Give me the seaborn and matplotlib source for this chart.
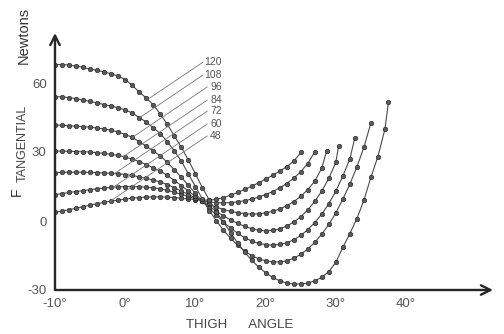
import numpy as np
import pandas as pd
import matplotlib
matplotlib.use("Agg")
import matplotlib.pyplot as plt
import seaborn as sns

# curve labels (top to bottom at -10 deg) and the angle where each curve stops
speeds = [120, 108, 96, 84, 72, 60, 48]
end_angles = [37.5, 35, 32.7, 30.4, 28.7, 27, 25.1]

# F tangential (N) read at every whole degree from -10, last value at end angle
f_120 = [68, 68, 67.8, 67.4, 66.8, 66, 65.5, 64.8, 64, 63,
         61.5, 59, 56, 53.5, 50.5, 46.5, 42, 37, 32, 26.5,
         20.5, 14.5, 9, 4, -0.5, -5, -9.5, -13.5, -17, -20,
         -22.5, -24.5, -26, -27, -27.4, -27.4, -27, -26, -24.5, -22,
         -18, -11.5, -5.5, 1, 9, 19, 28, 40, 51.7]
f_108 = [54, 54, 53.6, 53.2, 52.6, 52, 51.3, 50.6, 49.9, 49.2,
         48.3, 47, 45, 43, 40.5, 38, 34.5, 30.5, 26, 20.5,
         15, 9.5, 4.5, 0, -4, -7.5, -10.5, -13, -15, -16.5,
         -17.3, -17.8, -17.8, -17.3, -16.2, -14.5, -12.2, -9.3, -5.7, -1.5,
         3.5, 9.5, 16, 23.5, 32, 42.6]
f_96 = [41.7, 41.6, 41.4, 41.2, 41, 40.8, 40.4, 40, 39.4, 38.7,
        37.6, 36.4, 34.5, 32.5, 30.5, 28.3, 25.5, 22.3, 19, 15.5,
        12, 8.5, 5.5, 2.5, -0.5, -3, -5.3, -7.2, -8.7, -9.7,
        -10.3, -10.5, -10.2, -9.5, -8.2, -6.3, -3.8, -0.7, 3, 7.5,
        13, 19.5, 27, 36]
f_84 = [30.4, 30.4, 30.3, 30.2, 30.1, 30, 29.7, 29.4, 29, 28.5,
        27.8, 26.9, 25.8, 24.5, 23.1, 21.7, 19.8, 17.6, 15.4, 13,
        10.7, 8.5, 6.3, 4.2, 2.2, 0.5, -1, -2.3, -3.3, -4,
        -4.3, -4.1, -3.4, -2.2, -0.5, 1.8, 4.8, 8.5, 13, 18.5,
        25.5, 32.6]
f_72 = [21, 21.1, 21.2, 21.2, 21.2, 21.1, 21, 20.9, 20.7, 20.5,
        20.2, 19.8, 19.2, 18.5, 17.8, 17, 15.8, 14.5, 13, 11.5,
        10, 8.5, 7.2, 6, 5, 4.2, 3.6, 3.2, 3, 3.1,
        3.5, 4.2, 5.2, 6.6, 8.4, 10.7, 13.6, 17.3, 23, 30.4]
f_60 = [11.5, 11.9, 12.4, 12.8, 13.2, 13.6, 14, 14.3, 14.6, 14.8,
        15, 15, 14.9, 14.7, 14.4, 14, 13.3, 12.5, 11.6, 10.6,
        9.6, 8.8, 8.3, 8, 7.9, 8, 8.3, 8.8, 9.5, 10.4,
        11.5, 12.8, 14.4, 16.3, 18.6, 21.4, 25, 30]
f_48 = [3.8, 4.3, 4.9, 5.5, 6.2, 6.9, 7.5, 8.1, 8.6, 9.1,
        9.5, 9.9, 10.2, 10.4, 10.5, 10.5, 10.4, 10.2, 9.9, 9.6,
        9.3, 9.1, 9.1, 9.4, 10.2, 11.2, 12.4, 13.7, 15.1, 16.6,
        18.2, 19.9, 21.7, 23.6, 26, 30]

forces = [f_120, f_108, f_96, f_84, f_72, f_60, f_48]
x_ticks = [-10, 0, 10, 20, 30, 40]
x_tick_labels = ["-10°", "0°", "10°", "20°", "30°", "40°"]
y_ticks = [-30, 0, 30, 60]
y_tick_labels = ["-30", "0", "30", "60"]

rows = []
for spd, end, vals in zip(speeds, end_angles, forces):
    angles = list(range(-10, -10 + len(vals) - 1)) + [end]
    for a, f in zip(angles, vals):
        rows.append({"speed": spd, "angle": a, "force": f})
df = pd.DataFrame(rows)

sns.set_style("white")
plt.rcParams["font.family"] = ["Liberation Sans", "DejaVu Sans"]

fig = plt.figure(figsize=(5.04, 3.34), dpi=100)
# pixel layout: -10 deg at x=55, 7.02 px/deg ; -30 N at y=290, 2.3 px/N
ax = fig.add_axes([55 / 504, 44 / 334, 438 / 504, 257 / 334])
ax.set_xlim(-10, -10 + 438 / 7.02)
ax.set_ylim(-30, -30 + 257 / 2.3)

sns.lineplot(data=df, x="angle", y="force", units="speed", estimator=None,
             sort=False, color="#4a4a4a", lw=0.8, marker="o", ms=3.3,
             mfc="#5a5a5a", mec="#1e1e1e", mew=0.4, legend=False, ax=ax)

for s in ax.spines.values():
    s.set_visible(False)
arrow = dict(arrowstyle="->", color="#262626", lw=1.7, mutation_scale=17,
             shrinkA=0, shrinkB=0)
ax.annotate("", xy=(1, 0), xytext=(0, 0), xycoords="axes fraction",
            arrowprops=arrow)
ax.annotate("", xy=(0, 1), xytext=(0, 0), xycoords="axes fraction",
            arrowprops=arrow)

ax.set_xticks(x_ticks)
ax.set_xticklabels(x_tick_labels)
ax.set_yticks(y_ticks)
ax.set_yticklabels(y_tick_labels)
ax.tick_params(axis="x", length=3, width=1, pad=3, labelsize=9.5,
               labelcolor="#555555", color="#333333")
ax.tick_params(axis="y", length=4, width=1, pad=2, labelsize=9.5,
               labelcolor="#555555", color="#333333")
ax.set_xlabel("")
ax.set_ylabel("")

# curve labels with straight leader lines running down-left to each curve
label_y = [69.1, 63.5, 58.3, 52.6, 47.8, 42.2, 37.0]
slope = 2.054
for spd, end, vals, ly in zip(speeds, end_angles, forces, label_y):
    angles = list(range(-10, -10 + len(vals) - 1)) + [end]
    ax.text(13.75, ly, str(spd), ha="right", va="center", fontsize=7.5,
            color="#555555")
    sx = 11.1 if spd >= 100 else 11.7
    xs = np.linspace(sx, -10, 3000)
    lead = ly - slope * (sx - xs)
    curve = np.interp(xs, angles, vals)
    hit = np.argmax(lead <= curve)
    ax.plot([sx, xs[hit]], [ly, lead[hit]], color="#777777", lw=0.6)

fig.text(24 / 504, 1 - 35 / 334, "Newtons", rotation=90, ha="center",
         va="center", fontsize=10.5, color="#333333")
fig.text(17 / 504, 1 - 192 / 334, "F", rotation=90, ha="center",
         va="center", fontsize=10, color="#333333")
fig.text(23 / 504, 1 - 143 / 334, "TANGENTIAL", rotation=90, ha="center",
         va="center", fontsize=9, color="#444444")
fig.text(240 / 504, 1 - 325 / 334, "THIGH      ANGLE", ha="center",
         va="center", fontsize=9.5, color="#444444")

fig.savefig("out.png", dpi=100)
